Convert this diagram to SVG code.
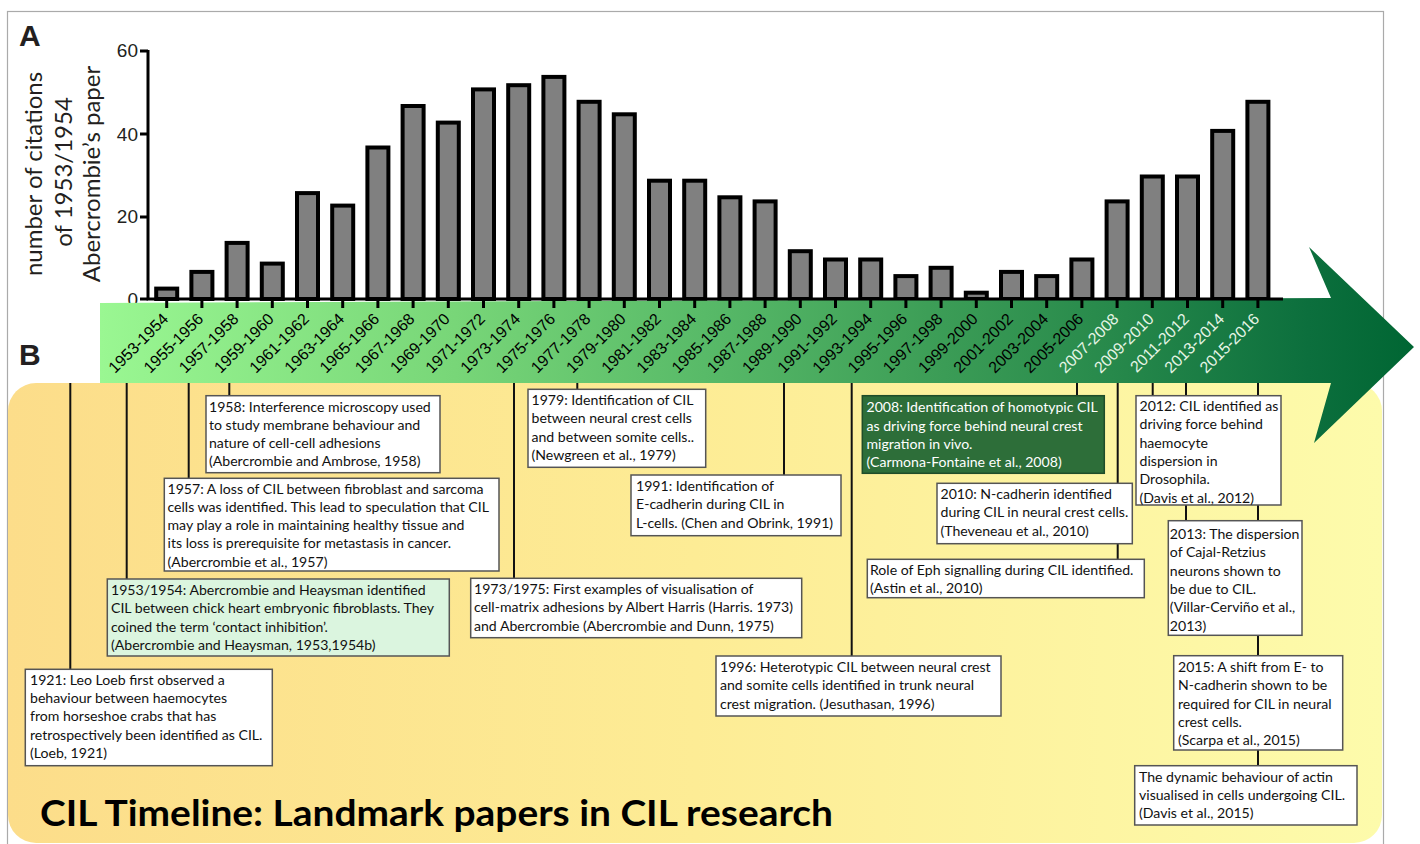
<svg xmlns="http://www.w3.org/2000/svg" width="1420" height="844" viewBox="0 0 1420 844">
<defs>
<linearGradient id="gBand" gradientUnits="userSpaceOnUse" x1="100" y1="0" x2="1414" y2="0">
<stop offset="0" stop-color="#9af792"/>
<stop offset="0.27" stop-color="#78d678"/>
<stop offset="0.46" stop-color="#58ba68"/>
<stop offset="0.63" stop-color="#3d9e57"/>
<stop offset="0.77" stop-color="#27894b"/>
<stop offset="0.92" stop-color="#0c6f3d"/>
<stop offset="1" stop-color="#006633"/>
</linearGradient>
<linearGradient id="gPanel" gradientUnits="userSpaceOnUse" x1="8" y1="0" x2="1382" y2="0">
<stop offset="0" stop-color="#fcdd8a"/>
<stop offset="0.5" stop-color="#fdec95"/>
<stop offset="1" stop-color="#fdfbab"/>
</linearGradient>
<style>
.bar{fill:#808080;stroke:#000;stroke-width:4}
.ax{stroke:#000;stroke-width:3;fill:none}
.tk{stroke:#000;stroke-width:3}
.yl{font-family:"Liberation Sans",Arial,sans-serif;font-size:19px;fill:#231f20;text-anchor:end}
.xl{font-family:"Liberation Sans",Arial,sans-serif;font-size:16px;fill:#000;text-anchor:end}
.xw{fill:#e6f5e6}
.ttl{font-family:Lato,"Open Sans",sans-serif;font-size:24px;fill:#231f20;text-anchor:middle}
.lab{font-family:"Liberation Sans",Arial,sans-serif;font-weight:bold;font-size:30px;fill:#231f20}
.box{fill:#fff;stroke:#555;stroke-width:1.5}
.t{font-family:Lato,"Open Sans",sans-serif;font-size:14.1px;fill:#111}
.tw{fill:#fff}
.con{stroke:#111;stroke-width:2;fill:none}
.big{font-family:Lato,"Open Sans",sans-serif;font-weight:bold;font-size:36px;fill:#000}
</style>
</defs>
<rect x="0" y="0" width="1420" height="844" fill="#fff"/>
<rect x="7.5" y="11.5" width="1376" height="850" fill="none" stroke="#aaa" stroke-width="1.2"/>

<g id="panelA">
<text class="lab" x="19" y="46">A</text>
<g id="ytitle">
<text class="ttl" transform="translate(42,174) rotate(-90)">number of citations</text>
<text class="ttl" transform="translate(72,172) rotate(-90)">of 1953/1954</text>
<text class="ttl" transform="translate(100,174) rotate(-90)">Abercrombie’s paper</text>
</g>
<g id="yaxis">
<text class="yl" x="138" y="57">60</text>
<text class="yl" x="138" y="141">40</text>
<text class="yl" x="138" y="223">20</text>
<text class="yl" x="138" y="306">0</text>
<path class="tk" d="M140 51H148M140 134H148M140 217H148M140 299H148"/>
</g>
<g id="bars">
<rect class="bar" x="156.2" y="288.6" width="21" height="10.4"/>
<rect class="bar" x="191.4" y="271.9" width="21" height="27.1"/>
<rect class="bar" x="226.6" y="242.9" width="21" height="56.1"/>
<rect class="bar" x="261.8" y="263.6" width="21" height="35.4"/>
<rect class="bar" x="297.0" y="193.1" width="21" height="105.9"/>
<rect class="bar" x="332.2" y="205.6" width="21" height="93.4"/>
<rect class="bar" x="367.4" y="147.5" width="21" height="151.5"/>
<rect class="bar" x="402.6" y="106.0" width="21" height="193.0"/>
<rect class="bar" x="437.8" y="122.6" width="21" height="176.4"/>
<rect class="bar" x="473.0" y="89.4" width="21" height="209.6"/>
<rect class="bar" x="508.2" y="85.2" width="21" height="213.8"/>
<rect class="bar" x="543.4" y="76.9" width="21" height="222.1"/>
<rect class="bar" x="578.6" y="101.8" width="21" height="197.2"/>
<rect class="bar" x="613.8" y="114.3" width="21" height="184.7"/>
<rect class="bar" x="649.0" y="180.7" width="21" height="118.3"/>
<rect class="bar" x="684.2" y="180.7" width="21" height="118.3"/>
<rect class="bar" x="719.4" y="197.3" width="21" height="101.7"/>
<rect class="bar" x="754.6" y="201.4" width="21" height="97.6"/>
<rect class="bar" x="789.8" y="251.2" width="21" height="47.8"/>
<rect class="bar" x="825.0" y="259.5" width="21" height="39.5"/>
<rect class="bar" x="860.2" y="259.5" width="21" height="39.5"/>
<rect class="bar" x="895.4" y="276.1" width="21" height="22.9"/>
<rect class="bar" x="930.6" y="267.8" width="21" height="31.2"/>
<rect class="bar" x="965.8" y="292.7" width="21" height="6.3"/>
<rect class="bar" x="1001.0" y="271.9" width="21" height="27.1"/>
<rect class="bar" x="1036.2" y="276.1" width="21" height="22.9"/>
<rect class="bar" x="1071.4" y="259.5" width="21" height="39.5"/>
<rect class="bar" x="1106.6" y="201.4" width="21" height="97.6"/>
<rect class="bar" x="1141.8" y="176.5" width="21" height="122.5"/>
<rect class="bar" x="1177.0" y="176.5" width="21" height="122.5"/>
<rect class="bar" x="1212.2" y="130.9" width="21" height="168.1"/>
<rect class="bar" x="1247.4" y="101.8" width="21" height="197.2"/>
</g>
</g>

<g id="panelB-bg">
<rect x="8" y="383" width="1374" height="460" rx="28" ry="28" fill="url(#gPanel)"/>
<text class="lab" x="19" y="365">B</text>
</g>

<g id="timeline-arrow">
<polygon points="100,303 1331,298 1309,247 1414,347 1314,443 1331,383 100,383" fill="url(#gBand)"/>
</g>

<g id="xaxis">
<path class="ax" d="M148 50V299H1283"/>
<path class="tk" d="M166.7 299V308M201.9 299V308M237.1 299V308M272.3 299V308M307.5 299V308M342.7 299V308M377.9 299V308M413.1 299V308M448.3 299V308M483.5 299V308M518.7 299V308M553.9 299V308M589.1 299V308M624.3 299V308M659.5 299V308M694.7 299V308M729.9 299V308M765.1 299V308M800.3 299V308M835.5 299V308M870.7 299V308M905.9 299V308M941.1 299V308M976.3 299V308M1011.5 299V308M1046.7 299V308M1081.9 299V308M1117.1 299V308M1152.3 299V308M1187.5 299V308M1222.7 299V308M1257.9 299V308"/>
<g id="xlabels">
<text class="xl" transform="translate(169.2,320) rotate(-45)">1953-1954</text>
<text class="xl" transform="translate(204.4,320) rotate(-45)">1955-1956</text>
<text class="xl" transform="translate(239.6,320) rotate(-45)">1957-1958</text>
<text class="xl" transform="translate(274.8,320) rotate(-45)">1959-1960</text>
<text class="xl" transform="translate(310.0,320) rotate(-45)">1961-1962</text>
<text class="xl" transform="translate(345.2,320) rotate(-45)">1963-1964</text>
<text class="xl" transform="translate(380.4,320) rotate(-45)">1965-1966</text>
<text class="xl" transform="translate(415.6,320) rotate(-45)">1967-1968</text>
<text class="xl" transform="translate(450.8,320) rotate(-45)">1969-1970</text>
<text class="xl" transform="translate(486.0,320) rotate(-45)">1971-1972</text>
<text class="xl" transform="translate(521.2,320) rotate(-45)">1973-1974</text>
<text class="xl" transform="translate(556.4,320) rotate(-45)">1975-1976</text>
<text class="xl" transform="translate(591.6,320) rotate(-45)">1977-1978</text>
<text class="xl" transform="translate(626.8,320) rotate(-45)">1979-1980</text>
<text class="xl" transform="translate(662.0,320) rotate(-45)">1981-1982</text>
<text class="xl" transform="translate(697.2,320) rotate(-45)">1983-1984</text>
<text class="xl" transform="translate(732.4,320) rotate(-45)">1985-1986</text>
<text class="xl" transform="translate(767.6,320) rotate(-45)">1987-1988</text>
<text class="xl" transform="translate(802.8,320) rotate(-45)">1989-1990</text>
<text class="xl" transform="translate(838.0,320) rotate(-45)">1991-1992</text>
<text class="xl" transform="translate(873.2,320) rotate(-45)">1993-1994</text>
<text class="xl" transform="translate(908.4,320) rotate(-45)">1995-1996</text>
<text class="xl" transform="translate(943.6,320) rotate(-45)">1997-1998</text>
<text class="xl" transform="translate(978.8,320) rotate(-45)">1999-2000</text>
<text class="xl" transform="translate(1014.0,320) rotate(-45)">2001-2002</text>
<text class="xl" transform="translate(1049.2,320) rotate(-45)">2003-2004</text>
<text class="xl" transform="translate(1084.4,320) rotate(-45)">2005-2006</text>
<text class="xl xw" transform="translate(1119.6,320) rotate(-45)">2007-2008</text>
<text class="xl xw" transform="translate(1154.8,320) rotate(-45)">2009-2010</text>
<text class="xl xw" transform="translate(1190.0,320) rotate(-45)">2011-2012</text>
<text class="xl xw" transform="translate(1225.2,320) rotate(-45)">2013-2014</text>
<text class="xl xw" transform="translate(1260.4,320) rotate(-45)">2015-2016</text>
</g>
</g>

<g id="connectors">
<path class="con" d="M70.3 383V669"/>
<path class="con" d="M126.7 383V579"/>
<path class="con" d="M188.7 383V478"/>
<path class="con" d="M229.3 383V396"/>
<path class="con" d="M514 383V578"/>
<path class="con" d="M577.3 383V389"/>
<path class="con" d="M784 383V475"/>
<path class="con" d="M851.7 383V656"/>
<path class="con" d="M1077 383V396"/>
<path class="con" d="M1117.7 383V559"/>
<path class="con" d="M1152.7 383V396"/>
<path class="con" d="M1186 383V521"/>
<path class="con" d="M1258 383V766"/>
</g>

<g id="n1958">
<rect class="box" x="206" y="395.7" width="234" height="77"/>
<text class="t"><tspan x="209" y="411.5">1958: Interference microscopy used</tspan><tspan x="209" y="429.8">to study membrane behaviour and</tspan><tspan x="209" y="448.1">nature of cell-cell adhesions</tspan><tspan x="209" y="466.4">(Abercrombie and Ambrose, 1958)</tspan></text>
</g>
<g id="n1957">
<rect class="box" x="164.3" y="478.3" width="334.7" height="92.7"/>
<text class="t"><tspan x="167.5" y="493.5">1957: A loss of CIL between fibroblast and sarcoma</tspan><tspan x="167.5" y="511.8">cells was identified. This lead to speculation that CIL</tspan><tspan x="167.5" y="530.1">may play a role in maintaining healthy tissue and</tspan><tspan x="167.5" y="548.4">its loss is prerequisite for metastasis in cancer.</tspan><tspan x="167.5" y="566.7">(Abercrombie et al., 1957)</tspan></text>
</g>
<g id="n1953">
<rect class="box" x="107.3" y="579" width="342" height="77" style="fill:#dbf5df"/>
<text class="t"><tspan x="111" y="595">1953/1954: Abercrombie and Heaysman identified</tspan><tspan x="111" y="613.3">CIL between chick heart embryonic fibroblasts. They</tspan><tspan x="111" y="631.6">coined the term ‘contact inhibition’.</tspan><tspan x="111" y="649.9">(Abercrombie and Heaysman, 1953,1954b)</tspan></text>
</g>
<g id="n1921">
<rect class="box" x="25.3" y="669.3" width="247" height="96.4"/>
<text class="t"><tspan x="30" y="684.8">1921: Leo Loeb first observed a</tspan><tspan x="30" y="703.1">behaviour between haemocytes</tspan><tspan x="30" y="721.4">from horseshoe crabs that has</tspan><tspan x="30" y="739.7">retrospectively been identified as CIL.</tspan><tspan x="30" y="758">(Loeb, 1921)</tspan></text>
</g>
<g id="n1979">
<rect class="box" x="528" y="389.3" width="177.7" height="78"/>
<text class="t"><tspan x="531.5" y="405">1979: Identification of CIL</tspan><tspan x="531.5" y="423.3">between neural crest cells</tspan><tspan x="531.5" y="441.6">and between somite cells..</tspan><tspan x="531.5" y="459.9">(Newgreen et al., 1979)</tspan></text>
</g>
<g id="n1991">
<rect class="box" x="631" y="475" width="210" height="60.7"/>
<text class="t"><tspan x="636" y="491">1991: Identification of</tspan><tspan x="636" y="509.3">E-cadherin during CIL in</tspan><tspan x="636" y="527.6">L-cells. (Chen and Obrink, 1991)</tspan></text>
</g>
<g id="n1973">
<rect class="box" x="470.7" y="578.3" width="331" height="59.4"/>
<text class="t"><tspan x="474" y="594">1973/1975: First examples of visualisation of</tspan><tspan x="474" y="612.3">cell-matrix adhesions by Albert Harris (Harris. 1973)</tspan><tspan x="474" y="630.6">and Abercrombie (Abercrombie and Dunn, 1975)</tspan></text>
</g>
<g id="n1996">
<rect class="box" x="716" y="656" width="285" height="60"/>
<text class="t"><tspan x="720" y="672">1996: Heterotypic CIL between neural crest</tspan><tspan x="720" y="690.3">and somite cells identified in trunk neural</tspan><tspan x="720" y="708.6">crest migration. (Jesuthasan, 1996)</tspan></text>
</g>
<g id="n2008">
<rect x="862.3" y="395.7" width="242" height="77.6" fill="#2d6e39" stroke="#1f4d29" stroke-width="1.5"/>
<text class="t tw"><tspan x="866.5" y="412.3">2008: Identification of homotypic CIL</tspan><tspan x="866.5" y="430.6">as driving force behind neural crest</tspan><tspan x="866.5" y="448.9">migration in vivo.</tspan><tspan x="866.5" y="467.2">(Carmona-Fontaine et al., 2008)</tspan></text>
</g>
<g id="n2010">
<rect class="box" x="937" y="483.3" width="195.3" height="60.4"/>
<text class="t"><tspan x="940.5" y="499">2010: N-cadherin identified</tspan><tspan x="940.5" y="517.3">during CIL in neural crest cells.</tspan><tspan x="940.5" y="535.6">(Theveneau et al., 2010)</tspan></text>
</g>
<g id="nEph">
<rect class="box" x="867.3" y="559.3" width="277" height="38.4"/>
<text class="t"><tspan x="870" y="575">Role of Eph signalling during CIL identified.</tspan><tspan x="870" y="593.3">(Astin et al., 2010)</tspan></text>
</g>
<g id="n2012">
<rect class="box" x="1136" y="395.7" width="145" height="109.3"/>
<text class="t"><tspan x="1139.5" y="411">2012: CIL identified as</tspan><tspan x="1139.5" y="429.3">driving force behind</tspan><tspan x="1139.5" y="447.6">haemocyte</tspan><tspan x="1139.5" y="465.9">dispersion in</tspan><tspan x="1139.5" y="484.2">Drosophila.</tspan><tspan x="1139.5" y="502.5">(Davis et al., 2012)</tspan></text>
</g>
<g id="n2013">
<rect class="box" x="1168.3" y="520.7" width="133.7" height="114.6"/>
<text class="t"><tspan x="1169.8" y="539">2013: The dispersion</tspan><tspan x="1169.8" y="557.3">of Cajal-Retzius</tspan><tspan x="1169.8" y="575.6">neurons shown to</tspan><tspan x="1169.8" y="593.9">be due to CIL.</tspan><tspan x="1169.8" y="612.2">(Villar-Cerviño et al.,</tspan><tspan x="1169.8" y="630.5">2013)</tspan></text>
</g>
<g id="n2015">
<rect class="box" x="1173.7" y="655.7" width="169" height="94.3"/>
<text class="t"><tspan x="1178" y="672">2015: A shift from E- to</tspan><tspan x="1178" y="690.3">N-cadherin shown to be</tspan><tspan x="1178" y="708.6">required for CIL in neural</tspan><tspan x="1178" y="726.9">crest cells.</tspan><tspan x="1178" y="745.2">(Scarpa et al., 2015)</tspan></text>
</g>
<g id="nActin">
<rect class="box" x="1134.7" y="765.7" width="222.3" height="59.3"/>
<text class="t"><tspan x="1139" y="781.5">The dynamic behaviour of actin</tspan><tspan x="1139" y="799.8">visualised in cells undergoing CIL.</tspan><tspan x="1139" y="818.1">(Davis et al., 2015)</tspan></text>
</g>

<text class="big" x="40" y="826" textLength="793" lengthAdjust="spacingAndGlyphs">CIL Timeline: Landmark papers in CIL research</text>
</svg>
